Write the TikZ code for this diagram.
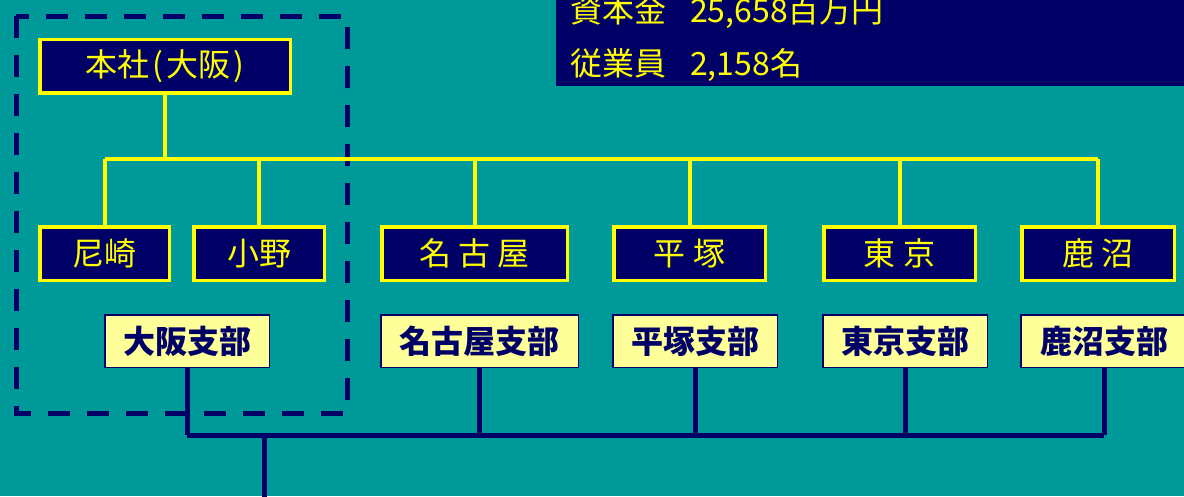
\documentclass[tikz,border=0pt]{standalone}
\usepackage{fontspec}
\setmainfont{Noto Sans CJK JP}
\definecolor{teal0}{RGB}{0,153,153}
\definecolor{navy}{RGB}{0,0,102}
\definecolor{ylw}{RGB}{255,255,0}
\definecolor{lylw}{RGB}{255,255,153}
\begin{document}
\begin{tikzpicture}[x=1pt,y=-1pt,
  site/.style={draw=ylw, line width=3.5pt, fill=navy, text=ylw, inner sep=0pt,
    minimum height=53.5pt, font=\fontsize{32}{38}\selectfont},
  branch/.style={draw=navy, line width=1.5pt, fill=lylw, text=navy, inner sep=0pt,
    minimum height=52.5pt, font=\fontsize{32}{38}\selectfont\bfseries},
  ytree/.style={draw=ylw, line width=4pt},
  ntree/.style={draw=navy, line width=5pt},
  infotext/.style={text=ylw, font=\fontsize{32}{38}\selectfont, inner sep=0pt, anchor=base west},
  frame/.style={draw=navy, line width=5pt, dash pattern=on 22pt off 17pt}]
\clip (0,0) rectangle (1184,496);
\fill[teal0] (0,0) rectangle (1184,496);

% info box
\node[fill=navy, inner sep=0pt, minimum width=640pt, minimum height=100pt, anchor=south west] (info) at (556,86) {};
\node[infotext] (cap) at (570,22) {資本金\hspace{24pt}25{,}658百万円};
\node[infotext] (emp) at (570,75) {従業員\hspace{24pt}2{,}158名};

% dashed frame
\draw[frame] (16,16) rectangle (347,413);

% head office
\node[site, minimum width=250.5pt] (hq) at (165,66) {本社\hspace{3pt}(\hspace{3pt}大阪\hspace{3pt})};

% sites
\node[site, minimum width=129.5pt] (ama) at (104.5,253.5) {尼崎};
\node[site, minimum width=130.5pt] (ono) at (259,253.5) {小野};
\node[site, minimum width=185.5pt] (nag) at (474.5,253.5) {名 古 屋};
\node[site, minimum width=151.5pt] (hir) at (689.5,253.5) {平 塚};
\node[site, minimum width=151.5pt] (tok) at (899.5,253.5) {東 京};
\node[site, minimum width=152.5pt] (kan) at (1098,253.5) {鹿 沼};

% branches
\node[branch, minimum width=164.5pt] (bosa) at (187,341) {大阪支部};
\node[branch, minimum width=197.5pt] (bnag) at (479.5,341) {名古屋支部};
\node[branch, minimum width=164.5pt] (bhir) at (695,341) {平塚支部};
\node[branch, minimum width=164.5pt] (btok) at (905,341) {東京支部};
\node[branch, minimum width=166.5pt] (bkan) at (1104,341) {鹿沼支部};

% yellow tree
\coordinate (barL) at (104.5,159);
\coordinate (barR) at (1098,159);
\draw[ytree] (barL) -- (barR);
\draw[ytree] (hq.south) -- (hq.south |- barL);
\foreach \n in {ama,ono,nag,hir,tok,kan}
  \draw[ytree] (\n.north) -- (\n.north |- barL);

% navy tree
\coordinate (nbL) at (187,435);
\coordinate (nbR) at (1104,435);
\coordinate (trunk) at (264,500);
\draw[ntree] (nbL) -- (nbR);
\foreach \n in {bosa,bnag,bhir,btok,bkan}
  \draw[ntree] (\n.south) -- (\n.south |- nbL);
\draw[ntree] (trunk) -- (trunk |- nbL);
\end{tikzpicture}
\end{document}
